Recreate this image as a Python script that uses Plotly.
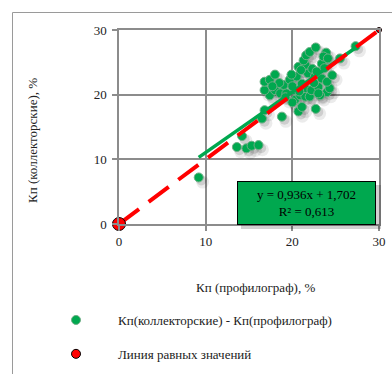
import plotly.graph_objects as go

# ---- data ----
kp_profilograf = [
    9.2, 13.6, 14.7, 15.3, 16.1, 14.2, 16.5, 16.8, 18.8, 20.7, 21.1, 22.7,
    17.4, 18.0, 16.8, 18.6, 19.3, 20.3, 20.3, 20.9, 21.5, 22.0, 21.5, 22.2,
    23.0, 24.0, 24.3, 19.0, 21.1, 16.8, 17.4, 19.7, 20.5, 21.8, 22.6, 23.4,
    24.0, 18.0, 19.9, 20.7, 21.5, 23.4, 23.7, 21.3, 21.6, 22.0, 22.7, 23.9,
    23.6, 24.1, 25.5, 27.3, 20.0, 22.5, 21.0, 22.3, 19.2, 23.2, 18.5, 20.8,
    22.8, 24.6, 23.0, 20.0, 17.7,
]
kp_kollektor = [
    7.2, 11.9, 11.7, 12.1, 12.2, 13.6, 16.3, 17.6, 16.6, 17.4, 18.1, 17.8,
    19.9, 20.7, 20.7, 20.2, 20.2, 20.7, 19.2, 19.9, 19.7, 19.7, 21.0, 20.7,
    21.2, 20.4, 21.0, 21.5, 21.7, 22.0, 22.3, 22.3, 22.8, 23.3, 22.8, 22.5,
    22.0, 23.1, 23.1, 24.3, 24.6, 24.8, 24.1, 25.3, 26.1, 26.6, 27.3, 26.5,
    25.9, 25.6, 25.6, 27.5, 21.3, 21.8, 23.8, 24.0, 19.6, 19.9, 21.8, 20.5,
    23.6, 23.0, 20.2, 18.8, 21.3,
]
equal_x = [0, 30]
equal_y = [0, 30]
slope = 0.936
intercept = 1.702
r2 = 0.613
x_ticks = [0, 10, 20, 30]
y_ticks = [0, 10, 20, 30]

FONT = "Liberation Serif"
GREEN = "#00A84F"
GRID = "#8c8c8c"
W, H = 392, 374
L, R, T, B = 119, 13, 30, 150
PW, PH = W - L - R, H - T - B


def px_x(p):
    return (p - L) / PW


def px_y(p):
    return 1 - (p - T) / PH


# trendline from regression coefficients over data range
tx = [min(kp_profilograf), max(kp_profilograf)]
ty = [slope * v + intercept for v in tx]

fig = go.Figure()

# soft shadow beneath points (two layers for a blurred look)
for off, sz, a in [(0.45, 13, 0.08), (0.3, 10, 0.12)]:
    fig.add_trace(go.Scatter(
        x=[v + off for v in kp_profilograf], y=[v - off * 1.6 for v in kp_kollektor],
        mode="markers", showlegend=False, hoverinfo="skip",
        marker=dict(size=sz, color=f"rgba(0,0,0,{a})", line=dict(width=0)),
    ))
fig.add_trace(go.Scatter(
    x=kp_profilograf, y=kp_kollektor, mode="markers",
    name="Кп(коллекторские) - Кп(профилограф)", legendgroup="a",
    marker=dict(size=9, color=GREEN, opacity=1, line=dict(width=1, color="#6fae86")),
))
fig.add_trace(go.Scatter(
    x=tx, y=ty, mode="lines", showlegend=False, hoverinfo="skip",
    line=dict(color=GREEN, width=3.5),
))
fig.add_trace(go.Scatter(
    x=equal_x, y=equal_y, mode="lines", showlegend=False, hoverinfo="skip",
    line=dict(color="#ff0000", width=4, dash="25px,12px"), cliponaxis=False,
))
fig.add_trace(go.Scatter(
    x=equal_x, y=equal_y, mode="markers", name="Линия равных значений",
    legendgroup="b", cliponaxis=False,
    marker=dict(size=[13, 5], color="#ff0000", opacity=1,
                line=dict(width=1, color="#000")),
))

# annotation box shadow + box
fig.add_shape(type="rect", xref="paper", yref="paper",
              x0=px_x(241), x1=px_x(381), y0=px_y(229), y1=px_y(185),
              fillcolor="rgba(0,0,0,0.18)", line=dict(width=0), layer="above")
fig.add_annotation(
    xref="paper", yref="paper", x=px_x(306.5), y=px_y(203),
    xanchor="center", yanchor="middle", showarrow=False,
    text=f"y = {str(slope).replace('.', ',')}x + {str(intercept).replace('.', ',')}<br>R² = {str(r2).replace('.', ',')}",
    font=dict(family=FONT, size=13, color="#000"),
    bgcolor=GREEN, bordercolor="#000", borderwidth=1, borderpad=2,
    width=133, height=38,
)

# axis titles
fig.add_annotation(
    xref="paper", yref="paper", x=px_x(32), y=px_y(141),
    xanchor="center", yanchor="middle",
    text="Кп (коллекторские), %", textangle=-90, showarrow=False,
    font=dict(family=FONT, size=13, color="#222"),
)
fig.add_annotation(
    xref="paper", yref="paper", x=px_x(255), y=px_y(287),
    xanchor="center", yanchor="middle",
    text="Кп (профилограф), %", showarrow=False,
    font=dict(family=FONT, size=13, color="#222"),
)

# outer chart border (partially visible)
fig.add_shape(type="rect", xref="paper", yref="paper",
              x0=px_x(12.5), x1=1.2, y0=-1.0, y1=px_y(12.5),
              line=dict(color="#9a9a9a", width=1), layer="below")

axis_common = dict(
    range=[0, 30], showgrid=True, gridcolor=GRID, gridwidth=1.5,
    showline=True, linecolor=GRID, linewidth=1.5, mirror=True,
    ticks="outside", ticklen=5, tickcolor=GRID, tickwidth=1.5,
    zeroline=False, automargin=False,
    tickfont=dict(family=FONT, size=13, color="#222"),
)
fig.update_xaxes(tickvals=x_ticks, **axis_common)
fig.update_yaxes(tickvals=y_ticks, ticklabelstandoff=3, **axis_common)

fig.update_layout(
    width=W, height=H,
    margin=dict(l=L, r=R, t=T, b=B, autoexpand=False),
    paper_bgcolor="white", plot_bgcolor="white",
    font=dict(family=FONT, size=13, color="#222"),
    legend=dict(
        xref="container", yref="container",
        x=34 / W, xanchor="left",
        y=1 - 305 / H, yanchor="top",
        itemwidth=74, tracegroupgap=14, traceorder="grouped",
        font=dict(family=FONT, size=13, color="#222"),
        bgcolor="rgba(0,0,0,0)",
    ),
)

fig.write_html("out.html")
